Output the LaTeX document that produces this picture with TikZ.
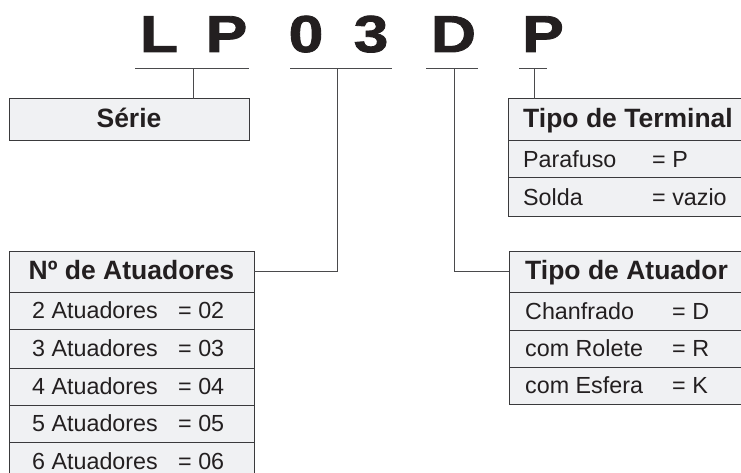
\documentclass[tikz,border=0pt]{standalone}
\usepackage{fontspec}
\setmainfont{Liberation Sans}
\newfontfamily\heavyfont{Liberation Sans Bold}[FakeBold=1.5]
\definecolor{boxfill}{HTML}{F0F1F3}
\definecolor{boxline}{HTML}{3A3A3C}
\definecolor{ink}{HTML}{231F20}
\definecolor{wire}{HTML}{4A4A4C}
\begin{document}
\begin{tikzpicture}[x=1pt,y=-1pt,
  cell/.style={draw=boxline, fill=boxfill, line width=1pt, rectangle, inner sep=0pt, outer sep=0pt, anchor=north west},
  big/.style={font=\fontsize{52}{56}\heavyfont, text=ink, anchor=base, inner sep=0pt},
  head/.style={font=\fontsize{26.5}{30}\selectfont\bfseries, text=ink, inner sep=0pt},
  txt/.style={font=\fontsize{23.3}{27}\selectfont, text=ink, anchor=base west, inner sep=0pt},
  wireline/.style={draw=wire, line width=1pt}]
\useasboundingbox (0,0) rectangle (741,473);
\clip (0,0) rectangle (741,473);

% code letters
\node[big] (c1) at (159,52) {\scalebox{1.2}[1]{L}};
\node[big] (c2) at (226.5,52) {\scalebox{1.2}[1]{P}};
\node[big] (c3) at (306,52) {\scalebox{1.2}[1]{0}};
\node[big] (c4) at (371,52) {\scalebox{1.2}[1]{3}};
\node[big] (c5) at (453.5,52) {\scalebox{1.2}[1]{D}};
\node[big] (c6) at (543,52) {\scalebox{1.2}[1]{P}};

% bars under letters
\coordinate (b1l) at (135,69); \coordinate (b1r) at (249,69); \coordinate (b1m) at (193,69);
\coordinate (b2l) at (290,69); \coordinate (b2r) at (392,69); \coordinate (b2m) at (337,69);
\coordinate (b3l) at (426,69); \coordinate (b3r) at (478,69); \coordinate (b3m) at (454,69);
\coordinate (b4l) at (519,69); \coordinate (b4r) at (547,69); \coordinate (b4m) at (534,69);

% Série
\node[cell, minimum width=240pt, minimum height=42pt] (serie) at (9,99) {};
\node[head, anchor=base] (serietxt) at (129,128) {Série};

% Tipo de Terminal
\node[cell, minimum width=260pt, minimum height=42pt] (term) at (508,99) {};
\node[cell, minimum width=260pt, minimum height=37pt] (term1) at (508,141) {};
\node[cell, minimum width=260pt, minimum height=38pt] (term2) at (508,178) {};
\node[head, anchor=base west] (termtxt) at (523,128) {Tipo de Terminal};
\node[txt] (t1a) at (523,167.5) {Parafuso};
\node[txt] (t1b) at (652,167.5) {= P};
\node[txt] (t2a) at (523,205.5) {Solda};
\node[txt] (t2b) at (652,205.5) {= vazio};

% Nº de Atuadores
\node[cell, minimum width=245pt, minimum height=41pt] (num) at (9,251) {};
\node[cell, minimum width=245pt, minimum height=37pt] (num1) at (9,292) {};
\node[cell, minimum width=245pt, minimum height=39pt] (num2) at (9,329) {};
\node[cell, minimum width=245pt, minimum height=37pt] (num3) at (9,368) {};
\node[cell, minimum width=245pt, minimum height=37pt] (num4) at (9,405) {};
\node[cell, minimum width=245pt, minimum height=38pt] (num5) at (9,442) {};
\node[head, anchor=base] (numtxt) at (131.5,279.5) {Nº de Atuadores};
\node[txt] (n1a) at (32,318) {2 Atuadores};
\node[txt] (n1b) at (178,318) {= 02};
\node[txt] (n2a) at (32,356) {3 Atuadores};
\node[txt] (n2b) at (178,356) {= 03};
\node[txt] (n3a) at (32,394) {4 Atuadores};
\node[txt] (n3b) at (178,394) {= 04};
\node[txt] (n4a) at (32,431) {5 Atuadores};
\node[txt] (n4b) at (178,431) {= 05};
\node[txt] (n5a) at (32,469) {6 Atuadores};
\node[txt] (n5b) at (178,469) {= 06};

% Tipo de Atuador
\node[cell, minimum width=260pt, minimum height=41pt] (atu) at (509,251) {};
\node[cell, minimum width=260pt, minimum height=38pt] (atu1) at (509,292) {};
\node[cell, minimum width=260pt, minimum height=37pt] (atu2) at (509,330) {};
\node[cell, minimum width=260pt, minimum height=37pt] (atu3) at (509,367) {};
\node[head, anchor=base west] (atutxt) at (525,279.5) {Tipo de Atuador};
\node[txt] (a1a) at (525,319) {Chanfrado};
\node[txt] (a1b) at (672,319) {= D};
\node[txt] (a2a) at (525,356.5) {com Rolete};
\node[txt] (a2b) at (672,356.5) {= R};
\node[txt] (a3a) at (525,393.5) {com Esfera};
\node[txt] (a3b) at (672,393.5) {= K};

% connectors
\draw[wireline] (b1l) -- (b1r);
\draw[wireline] (b2l) -- (b2r);
\draw[wireline] (b3l) -- (b3r);
\draw[wireline] (b4l) -- (b4r);
\draw[wireline] (b1m) -- (b1m |- serie.north);
\draw[wireline] (b4m) -- (b4m |- term.north);
\draw[wireline] (b2m) |- (num.east);
\draw[wireline] (b3m) |- (atu.west);
\end{tikzpicture}
\end{document}
